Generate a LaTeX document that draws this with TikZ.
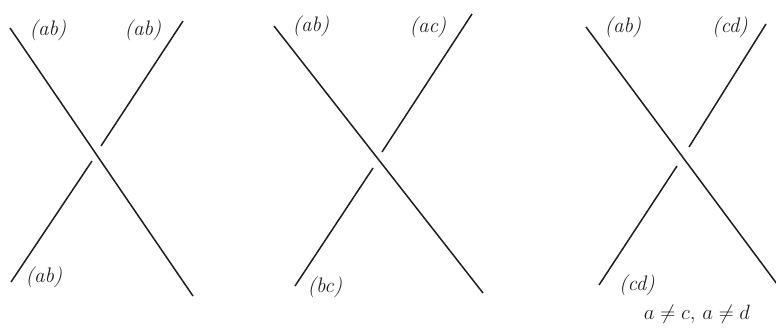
\documentclass[tikz,border=0pt]{standalone}
\usepackage{amsmath,amssymb}
\usepackage{fontspec}
\usepackage{xcolor}
\usepackage{tikz}
\usetikzlibrary{positioning,calc}
\definecolor{ink}{HTML}{1E1E1E}
\tikzset{
  strand/.style={draw=ink,line width=1.5pt},
  lbl/.style={font=\itshape\fontsize{21}{23}\selectfont,text=ink,inner sep=1pt},
}

\begin{document}
\begin{tikzpicture}[x=1pt,y=-1pt]
\useasboundingbox[fill=white] (0,0) rectangle (776,331);
% first crossing
\coordinate (ovA1) at (10,28);    \coordinate (ovA2) at (193,296);
\coordinate (unA1) at (11,282);   \coordinate (unA2) at (92,161);
\coordinate (unA3) at (101,146);  \coordinate (unA4) at (183,21);
\draw[strand] (ovA1) -- (ovA2);
\draw[strand] (unA1) -- (unA2);
\draw[strand] (unA3) -- (unA4);
\node[lbl] (lA1) at (48,30) {(ab)};
\node[lbl] (lA2) at (143,30) {(ab)};
\node[lbl] (lA3) at (44,277) {(ab)};
% second crossing
\coordinate (ovB1) at (274,26);   \coordinate (ovB2) at (483,293);
\coordinate (unB1) at (295,286);  \coordinate (unB2) at (373,168);
\coordinate (unB3) at (382,152);  \coordinate (unB4) at (472,14);
\draw[strand] (ovB1) -- (ovB2);
\draw[strand] (unB1) -- (unB2);
\draw[strand] (unB3) -- (unB4);
\node[lbl] (lB1) at (311,26) {(ab)};
\node[lbl] (lB2) at (428,27) {(ac)};
\node[lbl] (lB3) at (325,287) {(bc)};
% third crossing
\coordinate (ovC1) at (586,27);   \coordinate (ovC2) at (777,284);
\coordinate (unC1) at (599,285);  \coordinate (unC2) at (677,166);
\coordinate (unC3) at (689,147);  \coordinate (unC4) at (766,24);
\draw[strand] (ovC1) -- (ovC2);
\draw[strand] (unC1) -- (unC2);
\draw[strand] (unC3) -- (unC4);
\node[lbl] (lC1) at (623,27) {(ab)};
\node[lbl] (lC2) at (730,27) {(cd)};
\node[lbl] (lC3) at (637,285) {(cd)};
\node[font=\fontsize{21}{23}\selectfont,text=ink,inner sep=0pt] (cond) at (697,314) {$a\neq c,\,a\neq d$};
\end{tikzpicture}
\end{document}
